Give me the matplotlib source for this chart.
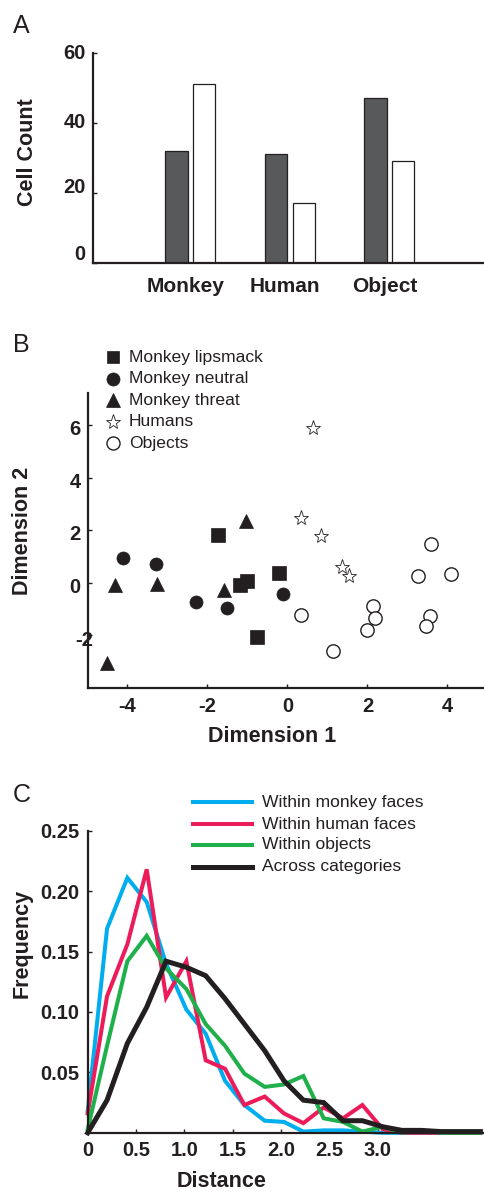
import matplotlib
matplotlib.use('Agg')
import matplotlib.pyplot as plt
from matplotlib.transforms import blended_transform_factory, ScaledTranslation

plt.rcParams['font.family'] = ['Liberation Sans', 'DejaVu Sans']

W, H = 485, 1192
INK = '#231f20'

# ---------------- data ----------------
# Panel A
categories = ['Monkey', 'Human', 'Object']
counts_dark = [32, 31, 47]
counts_white = [51, 17, 29]
a_yticks = [0, 20, 40, 60]

# Panel B (MDS coordinates)
lipsmack_x = [-1.73, -1.19, -1.02, -0.20, -0.75]
lipsmack_y = [1.81, -0.09, 0.08, 0.38, -2.05]
neutral_x = [-4.10, -3.29, -2.29, -1.52, -0.10]
neutral_y = [0.95, 0.70, -0.72, -0.94, -0.44]
threat_x = [-4.30, -3.27, -1.58, -1.04, -4.50]
threat_y = [-0.09, -0.05, -0.28, 2.35, -3.06]
humans_x = [0.65, 0.34, 0.84, 1.37, 1.54]
humans_y = [5.90, 2.48, 1.78, 0.61, 0.25]
objects_x = [3.58, 3.27, 4.10, 0.33, 2.15, 2.19, 1.98, 3.56, 3.46, 1.15]
objects_y = [1.49, 0.25, 0.32, -1.23, -0.87, -1.32, -1.80, -1.25, -1.65, -2.58]
b_xticks = [-4, -2, 0, 2, 4]
b_yticks = [-2, 0, 2, 4, 6]
b_legend = ['Monkey lipsmack', 'Monkey neutral', 'Monkey threat', 'Humans', 'Objects']

# Panel C (distance distributions)
distance = [0.00, 0.20, 0.41, 0.61, 0.81, 1.02, 1.22, 1.42, 1.62, 1.83, 2.03,
            2.23, 2.44, 2.64, 2.84, 3.05, 3.25, 3.45, 3.65, 3.86, 4.06]
freq_monkey = [0.018, 0.169, 0.211, 0.191, 0.140, 0.102, 0.082, 0.043, 0.023, 0.010, 0.009,
               0.001, 0.002, 0.002, 0.001, 0.000, 0.000, 0.000, 0.000, 0.000, 0.000]
freq_human = [0.016, 0.113, 0.156, 0.218, 0.112, 0.142, 0.060, 0.053, 0.023, 0.030, 0.016,
              0.008, 0.021, 0.012, 0.023, 0.003, 0.000, 0.000, 0.000, 0.000, 0.000]
freq_objects = [0.003, 0.072, 0.142, 0.163, 0.136, 0.119, 0.090, 0.072, 0.049, 0.038, 0.040,
                0.047, 0.012, 0.009, 0.001, 0.005, 0.000, 0.002, 0.000, 0.000, 0.000]
freq_across = [0.000, 0.027, 0.074, 0.104, 0.142, 0.137, 0.130, 0.111, 0.090, 0.068, 0.043,
               0.027, 0.025, 0.010, 0.010, 0.005, 0.002, 0.002, 0.001, 0.001, 0.001]
c_xticks = [0, 0.5, 1.0, 1.5, 2.0, 2.5, 3.0]
c_xticklabels = ['0', '0.5', '1.0', '1.5', '2.0', '2.5', '3.0']
c_yticks = [0.05, 0.10, 0.15, 0.20, 0.25]
c_yticklabels = ['0.05', '0.10', '0.15', '0.20', '0.25']
c_legend = ['Within monkey faces', 'Within human faces', 'Within objects', 'Across categories']

C_BLUE, C_RED, C_GREEN, C_BLACK = '#00aeef', '#ec1c5a', '#1fb04b', '#231f20'

TICK_FS = 14.5
LABEL_FS = 15.5
LEG_FS = 12.6
LETTER_FS = 18

fig = plt.figure(figsize=(W / 100, H / 100), dpi=100)


def fx(px):
    return px / W


def fy(py):
    return 1 - py / H


def make_axes(left_px, top_px, bottom_px, right_px=W):
    return fig.add_axes([fx(left_px), fy(bottom_px), fx(right_px) - fx(left_px),
                         fy(top_px) - fy(bottom_px)])


def style(ax):
    for s in ['top', 'right']:
        ax.spines[s].set_visible(False)
    for s in ['left', 'bottom']:
        ax.spines[s].set_linewidth(1.6)
        ax.spines[s].set_color(INK)
    ax.tick_params(direction='in', length=3, width=1.0, color=INK,
                   labelsize=TICK_FS, labelcolor=INK)
    for lab in ax.get_xticklabels() + ax.get_yticklabels():
        lab.set_fontweight('bold')


def ylabels_manual(ax, values, texts, offsets):
    """Draw y tick labels by hand (the original artwork has shifted labels)."""
    ax.tick_params(axis='y', labelleft=False)
    base = blended_transform_factory(ax.transAxes, ax.transData)
    for v, t, (dx, dy) in zip(values, texts, offsets):
        tr = base + ScaledTranslation(dx / 100, -dy / 100, fig.dpi_scale_trans)
        ax.text(0, v, t, transform=tr, ha='right', va='center_baseline',
                fontsize=TICK_FS, fontweight='bold', color=INK, clip_on=False)


# ---------------- Panel A ----------------
axA = make_axes(92.7, 52.7, 262.7)
xpos = [1, 2, 3]
axA.bar([x - 0.135 for x in xpos], counts_dark, width=0.225, color='#58595b',
        edgecolor=INK, linewidth=0.9)
axA.bar([x + 0.145 for x in xpos], counts_white, width=0.22, color='white',
        edgecolor=INK, linewidth=0.9)
axA.set_xlim(0.022, 3.965)
axA.set_ylim(0, 60)
axA.set_yticks(a_yticks)
axA.set_xticks([x - 0.045 for x in xpos])
axA.set_xticklabels(categories)
style(axA)
axA.tick_params(axis='x', length=0, pad=10, labelsize=15)
for lab in axA.get_xticklabels():
    lab.set_fontweight('bold')
ylabels_manual(axA, a_yticks, [str(v) for v in a_yticks],
               [(-7, -10.5), (-7, -7), (-7, -2), (-7, -1)])
fig.text(fx(28), fy(151.7), 'Cell Count', rotation=90, ha='center', va='center',
         fontsize=LABEL_FS, fontweight='bold', color=INK)
fig.text(fx(13), fy(33), 'A', fontsize=LETTER_FS, color=INK, ha='left', va='baseline')

# ---------------- Panel B ----------------
axB = make_axes(88.3, 393.3, 688.3)
mk = dict(color=INK, linestyle='none', clip_on=False)
axB.plot(lipsmack_x, lipsmack_y, marker='s', markersize=9.4, markerfacecolor=INK,
         markeredgecolor=INK, markeredgewidth=0.5, **mk)
axB.plot(neutral_x, neutral_y, marker='o', markersize=9.4, markerfacecolor=INK,
         markeredgecolor=INK, markeredgewidth=0.5, **mk)
axB.plot(threat_x, threat_y, marker='^', markersize=10.5, markerfacecolor=INK,
         markeredgecolor=INK, markeredgewidth=0.5, **mk)
axB.plot(humans_x, humans_y, marker='*', markersize=11, markerfacecolor='white',
         markeredgecolor=INK, markeredgewidth=0.6, **mk)
axB.plot(objects_x, objects_y, marker='o', markersize=9.6, markerfacecolor='white',
         markeredgecolor=INK, markeredgewidth=1.0, **mk)
axB.set_xlim(-4.98, 4.94)
axB.set_ylim(-4.01, 7.2)
axB.set_xticks(b_xticks)
axB.set_xticklabels([str(v) for v in b_xticks])
axB.set_yticks(b_yticks)
style(axB)
axB.tick_params(axis='x', pad=6)
ylabels_manual(axB, b_yticks, [str(v) for v in b_yticks],
               [(5, 3), (-7.6, 2.7), (-7.6, 2.7), (-7.6, 2.7), (-7.6, 2.7)])
fig.text(fx(23), fy(530.7), 'Dimension 2', rotation=90, ha='center', va='center',
         fontsize=LABEL_FS, fontweight='bold', color=INK)
fig.text(fx(272.5), fy(736.7), 'Dimension 1', ha='center', va='center',
         fontsize=LABEL_FS, fontweight='bold', color=INK)
fig.text(fx(13), fy(352), 'B', fontsize=LETTER_FS, color=INK, ha='left', va='baseline')

# legend B (drawn in figure coordinates)
leg_rows = [357.3, 379.0, 400.3, 421.5, 443.3]
leg_styles = [
    dict(marker='s', markersize=9.0, markerfacecolor=INK, markeredgecolor=INK, markeredgewidth=0.5),
    dict(marker='o', markersize=9.4, markerfacecolor=INK, markeredgecolor=INK, markeredgewidth=0.5),
    dict(marker='^', markersize=10.5, markerfacecolor=INK, markeredgecolor=INK, markeredgewidth=0.5),
    dict(marker='*', markersize=11, markerfacecolor='white', markeredgecolor=INK, markeredgewidth=0.6),
    dict(marker='o', markersize=9.4, markerfacecolor='white', markeredgecolor=INK, markeredgewidth=1.0),
]
for row, lab, st in zip(leg_rows, b_legend, leg_styles):
    fig.lines.append(plt.Line2D([fx(113.5)], [fy(row)], transform=fig.transFigure,
                                linestyle='none', **st))
    fig.text(fx(129), fy(row), lab, fontsize=LEG_FS, color=INK, ha='left', va='center')

# ---------------- Panel C ----------------
axC = make_axes(87.7, 830.7, 1132.8)
series = [(freq_monkey, C_BLUE, 2.9), (freq_human, C_RED, 2.9),
          (freq_objects, C_GREEN, 2.9), (freq_across, C_BLACK, 3.6)]
for vals, col, lw in series:
    axC.plot(distance, vals, color=col, linewidth=lw, solid_joinstyle='miter',
             clip_on=False)
axC.set_xlim(0, 4.108)
axC.set_ylim(0, 0.25)
axC.set_xticks(c_xticks)
axC.set_xticklabels(c_xticklabels)
axC.set_yticks(c_yticks)
axC.set_yticklabels(c_yticklabels)
style(axC)
axC.tick_params(axis='both', pad=6)
fig.text(fx(21.7), fy(943.3), 'Frequency', rotation=90, ha='center', va='center',
         fontsize=LABEL_FS, fontweight='bold', color=INK)
fig.text(fx(221.7), fy(1181.7), 'Distance', ha='center', va='center',
         fontsize=LABEL_FS, fontweight='bold', color=INK)
fig.text(fx(13), fy(802), 'C', fontsize=LETTER_FS, color=INK, ha='left', va='baseline')

# legend C
crow = [802.3, 824.3, 845.0, 866.7]
for row, lab, (vals, col, lw) in zip(crow, c_legend, series):
    fig.lines.append(plt.Line2D([fx(193), fx(252)], [fy(row), fy(row)],
                                transform=fig.transFigure, color=col, linewidth=lw))
    fig.text(fx(262), fy(row), lab, fontsize=LEG_FS, color=INK, ha='left', va='center')

fig.savefig('out.png', dpi=100)
